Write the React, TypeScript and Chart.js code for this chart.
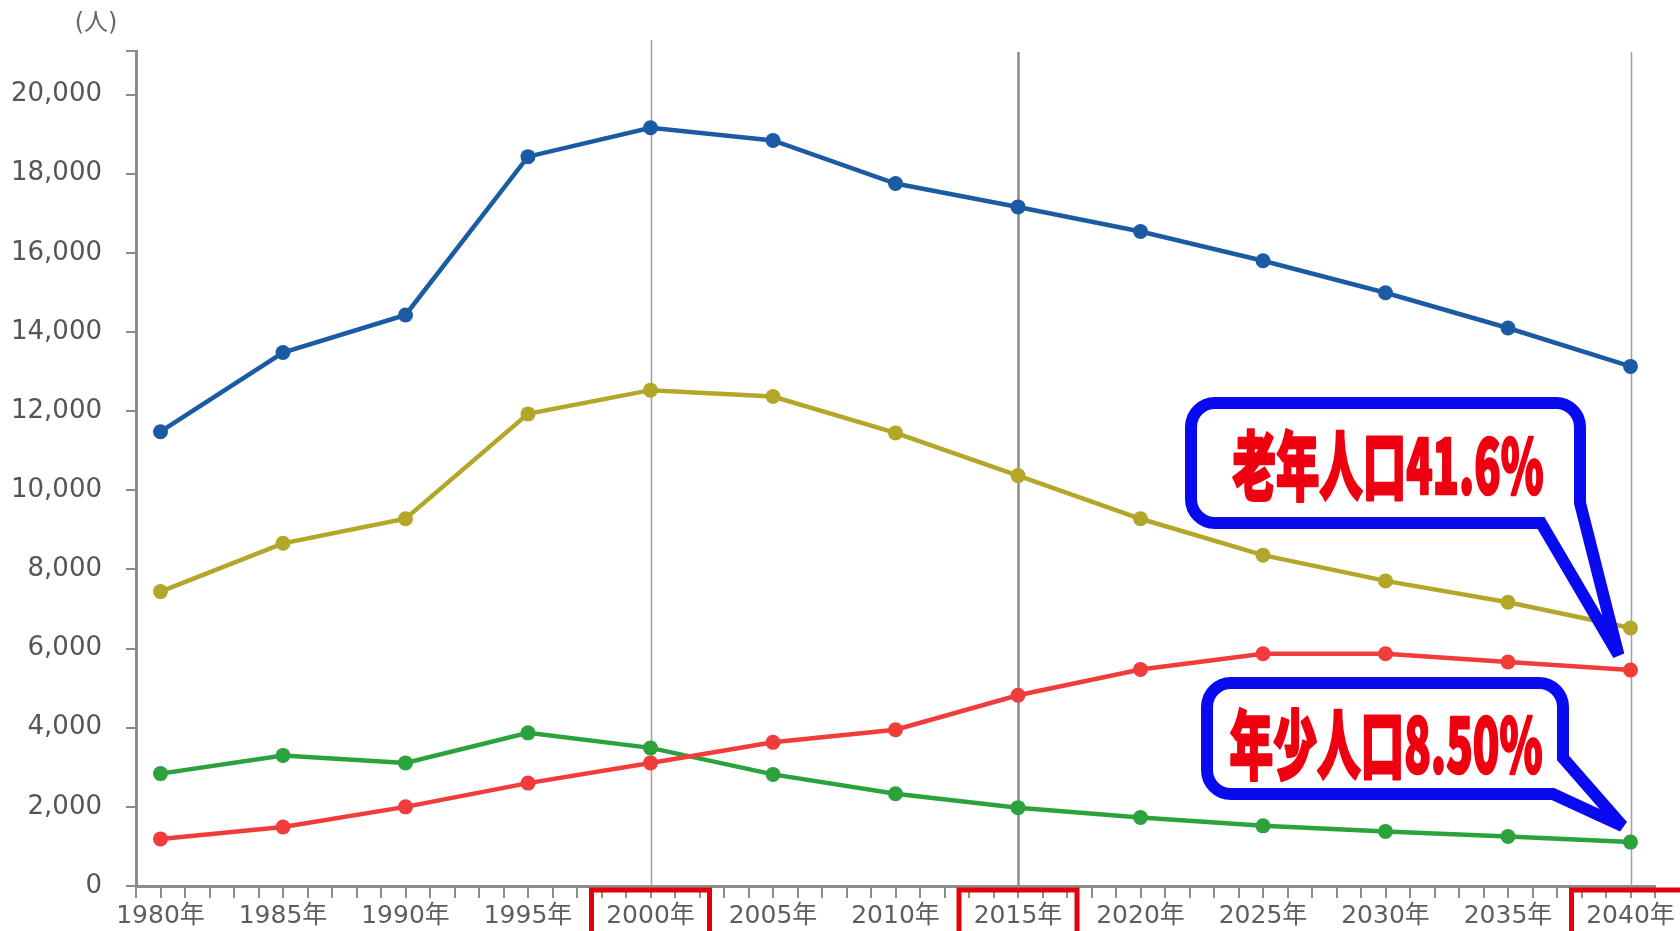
import React, { useEffect, useRef } from "react";
import { Chart, registerables } from "chart.js";

Chart.register(...registerables);

const years = [1980, 1985, 1990, 1995, 2000, 2005, 2010, 2015, 2020, 2025, 2030, 2035, 2040];
const totalPop = [11480, 13480, 14430, 18430, 19160, 18840, 17750, 17160, 16540, 15800, 14990, 14100, 13130];
const workingPop = [7440, 8660, 9280, 11930, 12530, 12370, 11450, 10370, 9280, 8360, 7710, 7170, 6520];
const elderlyPop = [1190, 1490, 2000, 2600, 3110, 3630, 3950, 4820, 5470, 5870, 5870, 5660, 5460];
const youngPop = [2840, 3300, 3110, 3870, 3490, 2820, 2330, 1980, 1730, 1520, 1380, 1250, 1110];
const yTickValues = [0, 2000, 4000, 6000, 8000, 10000, 12000, 14000, 16000, 18000, 20000];
const highlightYears = [2000, 2015, 2040];
const unitLabel = "(人)";
const elderlyNote = "老年人口41.6%";
const youngNote = "年少人口8.50%";

const seriesColors = ["#1b5ba3", "#b3a628", "#f23c3c", "#2ca23c"];

export default function App() {
  const ref = useRef<HTMLCanvasElement | null>(null);

  useEffect(() => {
    document.body.style.margin = "0";
    const canvas = ref.current!;
    const mk = (vals: number[]) => years.map((y, i) => ({ x: y, y: vals[i] }));

    const decor = {
      id: "decor",
      beforeDatasetsDraw(chart: any) {
        const { ctx, chartArea, scales } = chart;
        ctx.save();
        highlightYears.forEach((yr) => {
          const px = Math.round(scales.x.getPixelForValue(yr)) + 0.5;
          ctx.beginPath();
          ctx.strokeStyle = yr === 2015 ? "#8a8a8a" : "#a0a0a0";
          ctx.lineWidth = yr === 2015 ? 2.5 : 1.5;
          const top = yr === 2000 ? chartArea.top - 11 : chartArea.top + 1;
          ctx.moveTo(px, top);
          ctx.lineTo(px, chartArea.bottom);
          ctx.stroke();
        });
        ctx.restore();
      },
      afterDraw(chart: any) {
        const { ctx, chartArea, scales } = chart;
        ctx.save();
        ctx.fillStyle = "#666";
        ctx.font = '24px "DejaVu Sans", "Noto Sans CJK JP"';
        ctx.textAlign = "center";
        ctx.textBaseline = "middle";
        ctx.fillText(unitLabel, 96, 24);

        ctx.strokeStyle = "#e3000b";
        ctx.lineWidth = 5;
        highlightYears.forEach((yr) => {
          const cx = scales.x.getPixelForValue(yr);
          ctx.strokeRect(cx - 59, chartArea.bottom + 4, 118, 60);
        });

        const lastX = scales.x.getPixelForValue(years[years.length - 1]);
        const elderlyY = scales.y.getPixelForValue(elderlyPop[elderlyPop.length - 1]);
        const youngY = scales.y.getPixelForValue(youngPop[youngPop.length - 1]);

        const callout = (
          L: number, T: number, R: number, B: number,
          tailA: [number, number], tip: [number, number], tailB: [number, number],
          text: string, tcx: number, tcy: number, tw: number
        ) => {
          const r = 24;
          ctx.beginPath();
          ctx.moveTo(L + r, T);
          ctx.lineTo(R - r, T);
          ctx.arcTo(R, T, R, T + r, r);
          ctx.lineTo(tailA[0], tailA[1]);
          ctx.lineTo(tip[0], tip[1]);
          ctx.lineTo(tailB[0], tailB[1]);
          ctx.lineTo(L + r, B);
          ctx.arcTo(L, B, L, B - r, r);
          ctx.lineTo(L, T + r);
          ctx.arcTo(L, T, L + r, T, r);
          ctx.closePath();
          ctx.fillStyle = "#ffffff";
          ctx.fill();
          ctx.strokeStyle = "#0a0af0";
          ctx.lineWidth = 12;
          ctx.lineJoin = "miter";
          ctx.miterLimit = 3;
          ctx.stroke();

          ctx.save();
          ctx.font = '900 74px "Noto Sans CJK JP"';
          const w = ctx.measureText(text).width;
          ctx.translate(tcx, tcy);
          ctx.scale(tw / w, 1.02);
          ctx.fillStyle = "#ee0010";
          ctx.strokeStyle = "#ee0010";
          ctx.lineWidth = 2.5;
          ctx.lineJoin = "round";
          ctx.textAlign = "center";
          ctx.textBaseline = "middle";
          ctx.fillText(text, 0, 4);
          ctx.strokeText(text, 0, 4);
          ctx.restore();
        };

        callout(1191, 403, 1580, 523, [1580, 503], [lastX - 12, elderlyY - 15], [1541, 523],
          elderlyNote, 1388, 461, 311);
        callout(1207, 683, 1563, 794, [1563, 758], [lastX - 8, youngY - 16], [1553, 794],
          youngNote, 1386, 740, 313);
        ctx.restore();
      },
    };

    const ds = (vals: number[], c: string) => ({
      data: mk(vals),
      borderColor: c,
      backgroundColor: c,
      pointBackgroundColor: c,
      pointBorderColor: c,
      borderWidth: 4.5,
      pointRadius: 7.5,
      pointBorderWidth: 0,
      tension: 0,
    });

    const chart = new Chart(canvas, {
      type: "line",
      data: {
        datasets: [
          ds(totalPop, seriesColors[0]),
          ds(workingPop, seriesColors[1]),
          ds(elderlyPop, seriesColors[2]),
          ds(youngPop, seriesColors[3]),
        ],
      },
      options: {
        responsive: false,
        animation: false,
        devicePixelRatio: 1,
        layout: { padding: { top: 51, right: 25, left: 0, bottom: 0 } },
        plugins: { legend: { display: false }, tooltip: { enabled: false } },
        scales: {
          x: {
            type: "linear",
            min: 1979,
            max: 2041,
            afterFit: (s: any) => { s.height = 45; },
            afterBuildTicks: (s: any) => {
              const t = [];
              for (let v = 1979; v <= 2041; v++) t.push({ value: v });
              s.ticks = t;
            },
            ticks: {
              autoSkip: false,
              maxRotation: 0,
              padding: 3,
              color: "#5e5e5e",
              font: { size: 25, family: '"DejaVu Sans", "Noto Sans CJK JP"' },
              callback: (v: any) => (Number(v) % 5 === 0 ? `${v}年` : ""),
            },
            grid: { drawOnChartArea: false, drawTicks: true, tickLength: 12, color: "#8c8c8c", lineWidth: 2 },
            border: { display: true, color: "#8c8c8c", width: 3 },
          },
          y: {
            min: 0,
            max: 21100,
            afterFit: (s: any) => { s.width = 136; },
            afterBuildTicks: (s: any) => {
              s.ticks = [...yTickValues.map((v) => ({ value: v })), { value: 21100 }];
            },
            ticks: {
              padding: 24,
              color: "#555",
              font: { size: 26, family: '"DejaVu Sans", "Noto Sans CJK JP"' },
              callback: (v: any) => (yTickValues.includes(Number(v)) ? Number(v).toLocaleString("en-US") : ""),
            },
            grid: { drawOnChartArea: false, drawTicks: true, tickLength: 10, color: "#8c8c8c", lineWidth: 2 },
            border: { display: true, color: "#8c8c8c", width: 3 },
          },
        },
      },
      plugins: [decor],
    });
    return () => chart.destroy();
  }, []);

  return (
    <div style={{ position: "absolute", left: 0, top: 0, width: 1680, height: 931, background: "#fff" }}>
      <canvas ref={ref} width={1680} height={931} style={{ width: 1680, height: 931 }} />
    </div>
  );
}
